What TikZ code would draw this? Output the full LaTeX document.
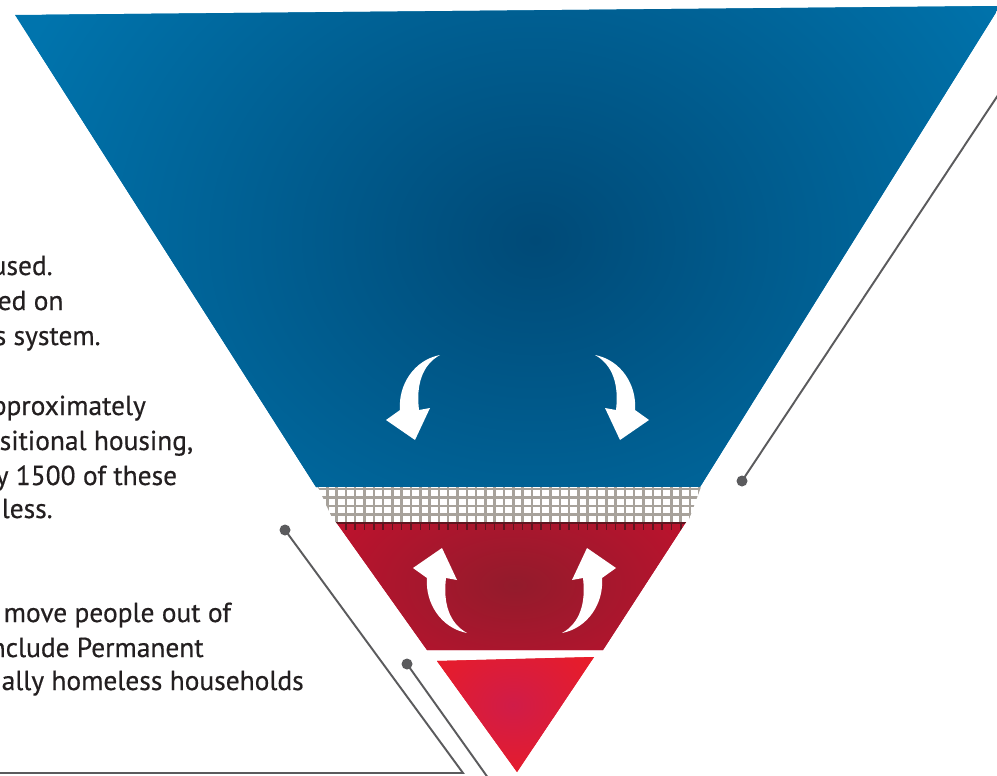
\documentclass[tikz,border=0pt]{standalone}
\usepackage{fontspec}
\setmainfont{PT Sans}
\newfontfamily\lblfont{PT Sans}[FakeBold=0.5]
\usetikzlibrary{positioning}

\definecolor{funnelblue}{HTML}{0074AD}
\definecolor{funneldeep}{HTML}{004A77}
\definecolor{shelterred}{HTML}{C8102E}
\definecolor{shelterdeep}{HTML}{931B2C}
\definecolor{tipred}{HTML}{EC1C24}
\definecolor{tipmagenta}{HTML}{D01C48}
\definecolor{meshgray}{HTML}{A7A29B}
\definecolor{tickdark}{HTML}{5E1620}
\definecolor{leadgray}{HTML}{5B5B5D}
\definecolor{inkdark}{HTML}{231F20}

\tikzset{
  lbl/.style={anchor=base west, inner sep=0pt, text=inkdark,
    font=\lblfont\fontsize{7.8pt}{9.5pt}\selectfont},
  leader/.style={draw=leadgray, line width=0.55pt},
  knob/.style={circle, fill=leadgray, inner sep=0pt, minimum size=0.11cm},
  mesh/.style={meshgray, line width=0.7pt},
  pics/swoosh/.style={code={
    \fill[white] (25,-85) .. controls (-1,-80) and (-17,-55) .. (-15,-30)
      -- (-29,-20) -- (0,0) -- (15,-32) -- (4,-30)
      .. controls (1,-55) and (7,-75) .. (25,-85) -- cycle;
  }}
}

\begin{document}
\begin{tikzpicture}[x=0.01cm, y=-0.01cm]
  \useasboundingbox (0,0) rectangle (997,776);

  % top layer
  \begin{scope}
    \clip (15,15) -- (1000,6) -- (700,487) -- (316,487) -- cycle;
    \fill[funnelblue] (0,0) rectangle (1000,490);
    \shade[inner color=funneldeep, outer color=funnelblue] (535,240) ellipse (5.6cm and 4.6cm);
  \end{scope}

  % mesh band
  \begin{scope}
    \clip (318,487) -- (701,487) -- (688,522) -- (334,522) -- cycle;
    \fill[white] (300,480) rectangle (720,530);
    \foreach \gx in {318,327.3,...,705} \draw[mesh] (\gx,485) -- (\gx,524);
    \foreach \gy in {489,497.5,...,522} \draw[mesh] (300,\gy) -- (720,\gy);
  \end{scope}

  % middle layer
  \begin{scope}
    \clip (336,522) -- (686,522) -- (603,650) -- (427,650) -- cycle;
    \fill[shelterred] (330,520) rectangle (690,652);
    \shade[inner color=shelterdeep, outer color=shelterred] (515,585) ellipse (2.6cm and 1.5cm);
    \draw[tickdark, line width=0.4pt] (330,523) -- (690,523);
    \foreach \gx in {336.6,345.9,...,690} \draw[tickdark, line width=0.45pt] (\gx,522) -- (\gx,530);
  \end{scope}

  % bottom tip
  \begin{scope}
    \clip (437,661) -- (594,657) -- (517,772) -- cycle;
    \fill[tipred] (430,650) rectangle (600,776);
    \shade[inner color=tipmagenta, outer color=tipred] (513,705) ellipse (1.1cm and 0.9cm);
  \end{scope}

  % flow arrows
  \pic at (415,440) {swoosh};
  \pic[xscale=-1] at (620,440) {swoosh};
  \pic[yscale=-1] at (442,548) {swoosh};
  \pic[xscale=-1, yscale=-1] at (587,548) {swoosh};

  % leaders
  \node[knob] (dotR) at (742,481) {};
  \coordinate (endR) at (1012,74);
  \draw[leader] (dotR.center) -- (endR);

  \node[knob] (dotM) at (285,530) {};
  \coordinate (bendM) at (463,773);
  \coordinate (endM) at (-10,773);
  \draw[leader] (dotM.center) -- (bendM) -- (endM);

  \node[knob] (dotL) at (407,664) {};
  \coordinate (endL) at (491,782);
  \draw[leader] (dotL.center) -- (endL);

  % text
  \node[lbl] (t1) at (-9,275) {used.};
  \node[lbl] (t2) at (-3,310) {ed on};
  \node[lbl] (t3) at (-6,345) {s system.};
  \node[lbl] (t4) at (-9,415) {pproximately};
  \node[lbl] (t5) at (-1,450) {sitional housing,};
  \node[lbl] (t6) at (-5,485) {y 1500 of these};
  \node[lbl] (t7) at (1,518) {less.};
  \node[lbl] (t8) at (3,622) {move people out of};
  \node[lbl] (t9) at (-10,657) {nclude Permanent};
  \node[lbl] (t10) at (1,690) {ally homeless households};
\end{tikzpicture}
\end{document}
